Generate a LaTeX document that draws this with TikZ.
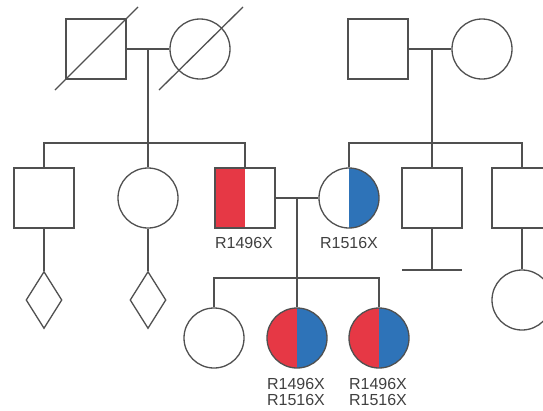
\documentclass[tikz,border=0pt]{standalone}
\usepackage{fontspec}
\setmainfont{Liberation Sans}
\usetikzlibrary{shapes.geometric}
\definecolor{lc}{HTML}{505050}
\definecolor{mred}{HTML}{E63845}
\definecolor{mblue}{HTML}{2E73B8}
\definecolor{tc}{HTML}{404040}
\tikzset{
  ln/.style={draw=lc, line width=1.3pt},
  male/.style={rectangle, ln, minimum size=60pt, inner sep=0pt, fill=white},
  female/.style={circle, ln, minimum size=60pt, inner sep=0pt, fill=white},
  unk/.style={diamond, ln, minimum width=36pt, minimum height=57pt, aspect=0.63, inner sep=0pt},
  lefthalf/.style={path picture={\fill[#1] (path picture bounding box.south west) rectangle (path picture bounding box.north);}},
  righthalf/.style={path picture={\fill[#1] (path picture bounding box.south) rectangle (path picture bounding box.north east);}},
  both/.style={path picture={\fill[mred] (path picture bounding box.south west) rectangle (path picture bounding box.north);
     \fill[mblue] (path picture bounding box.south) rectangle (path picture bounding box.north east);}},
  lbl/.style={font=\fontsize{16}{17}\selectfont, text=tc, anchor=base, inner sep=0pt},
}
\begin{document}
\begin{tikzpicture}[x=1pt,y=-1pt]
\clip (0,0) rectangle (543,410);
\fill[white] (0,0) rectangle (543,410);
% generation I
\node[male] (gf) at (96,49) {};
\node[female] (gm) at (200,49) {};
\node[male] (rf) at (378,49) {};
\node[female] (rm) at (482,49) {};
\draw[ln] ([shift={(-41,41)}]gf.center) -- ([shift={(42,-42)}]gf.center);
\draw[ln] ([shift={(-41,41)}]gm.center) -- ([shift={(43,-42)}]gm.center);
\draw[ln] (gf.east) -- (gm.west);
\draw[ln] (rf.east) -- (rm.west);
\coordinate (lm) at (148,49);
\coordinate (rmid) at (432,49);
% generation II
\node[male] (s1) at (44,198) {};
\node[female] (c1) at (148,198) {};
\node[male, lefthalf=mred] (p1) at (245,198) {};
\node[female, righthalf=mblue] (m1) at (349,198) {};
\node[male] (s2) at (432,198) {};
\node[male] (s3) at (522,198) {};
\coordinate (ls) at (148,143);
\coordinate (rs) at (432,143);
\draw[ln] (lm) -- (ls);
\draw[ln] (s1.north) |- (ls) -| (p1.north);
\draw[ln] (c1.north) -- (ls);
\draw[ln] (rmid) -- (rs);
\draw[ln] (m1.north) |- (rs) -| (s3.north);
\draw[ln] (s2.north) -- (rs);
\draw[ln] (p1.east) -- (m1.west);
\node[lbl] (l1) at (244,248) {R1496X};
\node[lbl] (l2) at (349,248) {R1516X};
% generation III
\node[unk] (d1) at (44,300) {};
\node[unk] (d2) at (148,300) {};
\draw[ln] (s1.south) -- (d1.north);
\draw[ln] (c1.south) -- (d2.north);
\coordinate (nb) at (432,270);
\draw[ln] (s2.south) -- (nb);
\draw[ln] ([xshift=-30pt]nb) -- ([xshift=30pt]nb);
\node[female] (k4) at (522,300) {};
\draw[ln] (s3.south) -- (k4.north);
\coordinate (cm) at (297,198);
\coordinate (cs) at (297,278);
\node[female] (k1) at (214,338) {};
\node[female, both] (k2) at (297,338) {};
\node[female, both] (k3) at (379,338) {};
\draw[ln] (cm) -- (cs);
\draw[ln] (k1.north) |- (cs) -| (k3.north);
\draw[ln] (k2.north) -- (cs);
\node[lbl] (l3) at (296,389) {R1496X};
\node[lbl] (l4) at (296,405) {R1516X};
\node[lbl] (l5) at (378,389) {R1496X};
\node[lbl] (l6) at (378,405) {R1516X};
\end{tikzpicture}
\end{document}
